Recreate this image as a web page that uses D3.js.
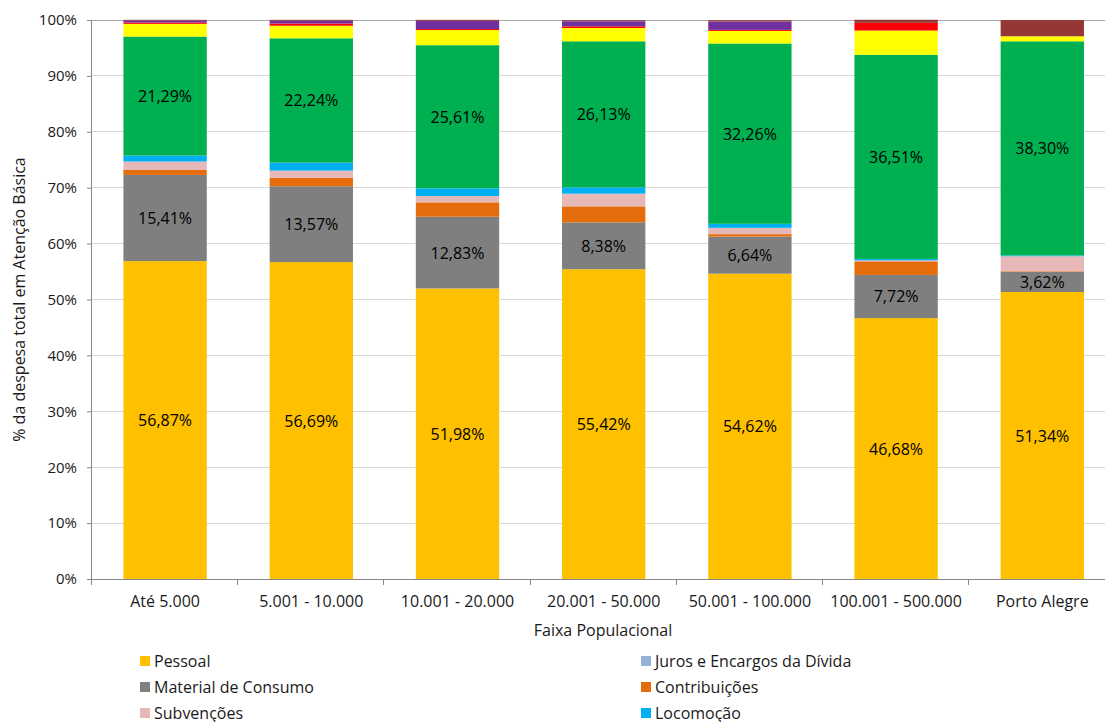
<!DOCTYPE html>
<html><head><meta charset="utf-8">
<script src="https://cdn.jsdelivr.net/npm/d3@7"></script>
<style>body{margin:0;background:#fff}svg{display:block;font-family:"Open Sans","Noto Sans",sans-serif}</style>
</head><body><svg id="c" width="1105" height="722"></svg>
<script>
const categories = ["Até 5.000","5.001 - 10.000","10.001 - 20.000","20.001 - 50.000","50.001 - 100.000","100.001 - 500.000","Porto Alegre"];
const seriesNames = ["Pessoal","Juros e Encargos da Dívida","Material de Consumo","Contribuições","Subvenções","Locomoção",
  "Outros Serviços de Terceiros - Pessoa Jurídica","Outros Serviços de Terceiros - Pessoa Física","Diárias","Obras e Instalações","Equipamentos e Material Permanente"];
const seriesColors = ["#FFC000","#95B3D7","#7F7F7F","#E46C0A","#E6B9B8","#00B0F0","#00B050","#FFFF00","#FF0000","#7030A0","#953735"];
const pessoal      = [56.87,56.69,51.98,55.42,54.62,46.68,51.34];
const juros        = [0,0,0,0,0,0,0];
const material     = [15.41,13.57,12.83,8.38,6.64,7.72,3.62];
const contribuicoes= [0.90,1.50,2.57,2.86,0.43,2.43,0.10];
const subvencoes   = [1.50,1.30,1.13,2.27,1.13,0.18,2.68];
const locomocao    = [1.07,1.43,1.38,1.13,0.72,0.25,0.15];
const terceirosPJ  = [21.29,22.24,25.61,26.13,32.26,36.51,38.30];
const terceirosPF  = [2.27,2.25,2.70,2.38,2.25,4.35,0.90];
const diarias      = [0.25,0.40,0.18,0.30,0.18,1.38,0.00];
const obras        = [0.35,0.50,1.50,0.90,1.50,0.00,0.00];
const equipamentos = [0.12,0.15,0.15,0.18,0.23,0.54,2.90];
const yTicks = [0,10,20,30,40,50,60,70,80,90,100];
const labeledSeries = ["Pessoal","Material de Consumo","Outros Serviços de Terceiros - Pessoa Jurídica"];
const legendVisibleCount = 6; // the reference image is cropped after the third legend row

const seriesValues = [pessoal,juros,material,contribuicoes,subvencoes,locomocao,terceirosPJ,terceirosPF,diarias,obras,equipamentos];
const rows = categories.map((c,i)=>{const r={cat:c};seriesNames.forEach((s,j)=>r[s]=seriesValues[j][i]);return r;});
const stack = d3.stack().keys(seriesNames)(rows);

const svg = d3.select("#c");
const L=92, T=20, B=579, step=146.2, R=L+step*categories.length;
const x = d3.scaleBand().domain(categories).range([L,R]).paddingInner(0.43).paddingOuter(0.215);
const y = d3.scaleLinear().domain([0,100]).range([B,T]);
const fmt = v => d3.format(".2f")(v).replace(".",",")+"%";
const txt = "#1a1a1a";

// gridlines
svg.append("g").selectAll("line").data(yTicks.filter(t=>t>0&&t<100)).join("line")
  .attr("x1",L).attr("x2",R).attr("y1",d=>y(d)).attr("y2",d=>y(d)).attr("stroke","#D9D9D9").attr("stroke-width",1).attr("shape-rendering","crispEdges");
svg.append("line").attr("x1",L).attr("x2",R).attr("y1",y(100)).attr("y2",y(100)).attr("stroke","#A6A6A6").attr("shape-rendering","crispEdges");

// bars
const sg = svg.append("g").selectAll("g").data(stack).join("g").attr("fill",(d,i)=>seriesColors[i]);
sg.selectAll("rect").data(d=>d.map(p=>({p,cat:p.data.cat}))).join("rect")
  .attr("x",d=>x(d.cat)).attr("width",x.bandwidth())
  .attr("y",d=>y(d.p[1])).attr("height",d=>Math.max(0,y(d.p[0])-y(d.p[1])));

// data labels
stack.filter(s=>labeledSeries.includes(s.key)).forEach(s=>{
  svg.append("g").selectAll("text").data(s).join("text")
    .attr("x",d=>x(d.data.cat)+x.bandwidth()/2).attr("y",d=>(y(d[0])+y(d[1]))/2)
    .attr("text-anchor","middle").attr("dominant-baseline","central")
    .attr("font-size",16).attr("fill","#000").text(d=>fmt(d[1]-d[0]));
});

// y axis
const ya = svg.append("g").attr("transform",`translate(${L},0)`)
  .call(d3.axisLeft(y).tickValues(yTicks).tickFormat(d=>d+"%").tickSize(5).tickPadding(10));
ya.select(".domain").attr("stroke","#868686").attr("d",`M-0.5,${T}V${B}`);
ya.selectAll(".tick line").attr("stroke","#868686");
ya.selectAll("text").attr("font-size",15).attr("fill",txt).attr("font-family","'Open Sans',sans-serif");

// x axis
const xa = svg.append("g").attr("transform",`translate(0,${B})`).call(d3.axisBottom(x).tickSize(0).tickPadding(17));
xa.select(".domain").attr("stroke","#868686").attr("d",`M${L},0.5H${R}`);
xa.selectAll("text").attr("font-size",16).attr("fill",txt).attr("font-family","'Open Sans',sans-serif");
svg.append("g").selectAll("line").data(d3.range(categories.length+1)).join("line")
  .attr("x1",i=>Math.round(L+i*step)-0.5).attr("x2",i=>Math.round(L+i*step)-0.5).attr("y1",B).attr("y2",B+6)
  .attr("stroke","#868686");

// axis titles
svg.append("text").attr("x",603).attr("y",636).attr("text-anchor","middle").attr("font-size",16).attr("fill",txt).text("Faixa Populacional");
svg.append("text").attr("transform",`translate(25,${(T+B)/2}) rotate(-90)`).attr("text-anchor","middle").attr("font-size",16).attr("fill",txt)
  .text("% da despesa total em Atenção Básica");

// legend (2 columns, row-wise)
const lg = svg.append("g").selectAll("g").data(seriesNames.slice(0,legendVisibleCount)).join("g")
  .attr("transform",(d,i)=>`translate(${i%2===0?140:641},${661+Math.floor(i/2)*26})`);
lg.append("rect").attr("x",0).attr("y",-5).attr("width",10).attr("height",10).attr("fill",(d,i)=>seriesColors[i]);
lg.append("text").attr("x",14).attr("y",0).attr("dominant-baseline","central").attr("font-size",16).attr("fill",txt).text(d=>d);
</script></body></html>
